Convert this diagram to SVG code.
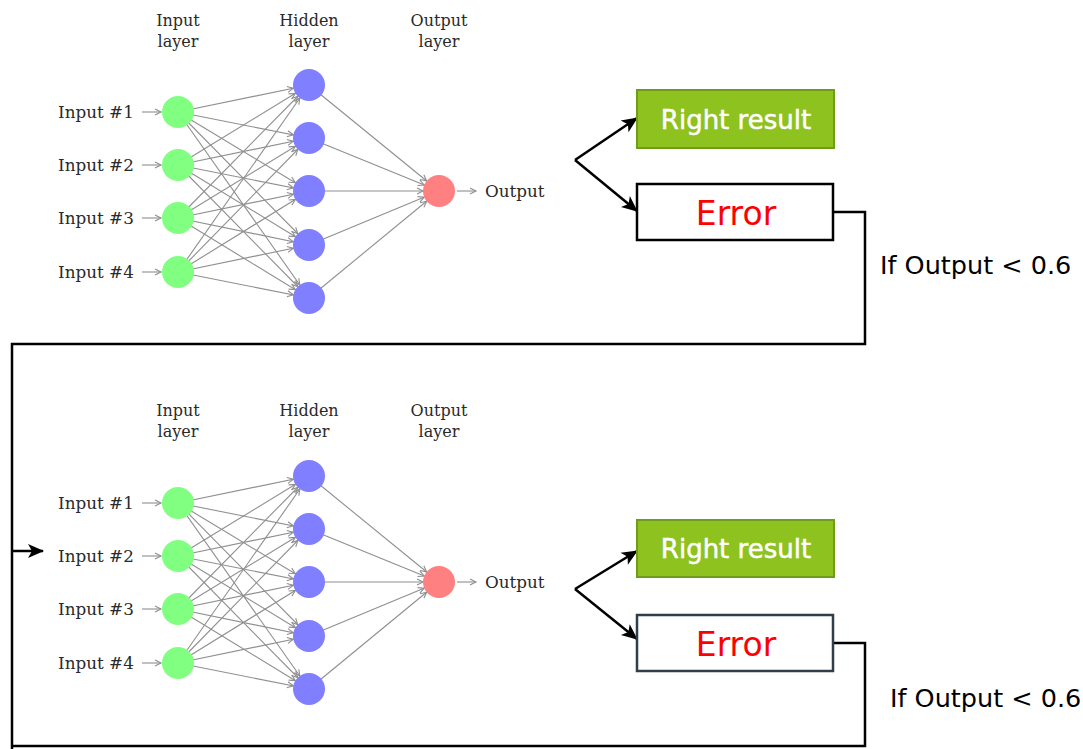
<svg xmlns="http://www.w3.org/2000/svg" width="1083" height="749" viewBox="0 0 1083 749">
<style>
.lbl{font-family:"DejaVu Serif","Liberation Serif",serif;font-size:16.8px;fill:#2a2a2a}
.hdr{font-family:"DejaVu Serif","Liberation Serif",serif;font-size:16px;fill:#2a2a2a;text-anchor:middle}
.edge{stroke:#8f8f8f;stroke-width:1.1;fill:none;marker-end:url(#nodeArrow)}
.ia{stroke:#8f8f8f;stroke-width:1.1;fill:none;marker-end:url(#smallArrow)}
.inN{fill:#80ff80}
.hidN{fill:#7f7fff}
.outN{fill:#ff8080}
.right{fill:#8dc21f;stroke:#6f9c1a;stroke-width:2}
.err{fill:#fff;stroke:#000;stroke-width:2.5}
.err2{fill:#fff;stroke:#2f3e48;stroke-width:2.5}
.rt{font-family:"DejaVu Sans","Liberation Sans",sans-serif;font-size:26px;fill:#fff;stroke:#fff;stroke-width:0.5;text-anchor:middle}
.et{font-family:"DejaVu Sans","Liberation Sans",sans-serif;font-size:33px;fill:#ff0000;text-anchor:middle}
.cond{font-family:"DejaVu Sans","Liberation Sans",sans-serif;font-size:25.5px;fill:#000}
.fork{stroke:#000;stroke-width:2.5;fill:none;marker-end:url(#bigArrow)}
.loop{stroke:#000;stroke-width:2.5;fill:none}
</style>
<defs>
<marker id="nodeArrow" markerUnits="userSpaceOnUse" markerWidth="30" markerHeight="10" refX="22" refY="5" orient="auto" overflow="visible">
<path d="M0,2 L6,5 L0,8" fill="none" stroke="#8f8f8f" stroke-width="1.1"/>
</marker>
<marker id="smallArrow" markerUnits="userSpaceOnUse" markerWidth="8" markerHeight="10" refX="6" refY="5" orient="auto" overflow="visible">
<path d="M0,2 L6,5 L0,8" fill="none" stroke="#8f8f8f" stroke-width="1.1"/>
</marker>
<marker id="bigArrow" markerUnits="userSpaceOnUse" markerWidth="16" markerHeight="14" refX="15" refY="7" orient="auto" overflow="visible">
<path d="M0,0 L16,7 L0,14 L4,7 Z" fill="#000"/>
</marker>
</defs>

<g id="connectors">
<g id="top-edges">
<path class="edge" d="M178,112 L309,85"/><path class="edge" d="M178,112 L309,138"/><path class="edge" d="M178,112 L309,191"/><path class="edge" d="M178,112 L309,245"/><path class="edge" d="M178,112 L309,298"/>
<path class="edge" d="M178,165 L309,85"/><path class="edge" d="M178,165 L309,138"/><path class="edge" d="M178,165 L309,191"/><path class="edge" d="M178,165 L309,245"/><path class="edge" d="M178,165 L309,298"/>
<path class="edge" d="M178,218 L309,85"/><path class="edge" d="M178,218 L309,138"/><path class="edge" d="M178,218 L309,191"/><path class="edge" d="M178,218 L309,245"/><path class="edge" d="M178,218 L309,298"/>
<path class="edge" d="M178,272 L309,85"/><path class="edge" d="M178,272 L309,138"/><path class="edge" d="M178,272 L309,191"/><path class="edge" d="M178,272 L309,245"/><path class="edge" d="M178,272 L309,298"/>
<path class="edge" d="M309,85 L439,191"/><path class="edge" d="M309,138 L439,191"/><path class="edge" d="M309,191 L439,191"/><path class="edge" d="M309,245 L439,191"/><path class="edge" d="M309,298 L439,191"/>
<path class="ia" d="M142,112 H161"/><path class="ia" d="M142,165 H161"/><path class="ia" d="M142,218 H161"/><path class="ia" d="M142,272 H161"/>
<path class="ia" d="M457,191 H476"/>
</g>
<g id="bottom-edges" transform="translate(0,391)">
<path class="edge" d="M178,112 L309,85"/><path class="edge" d="M178,112 L309,138"/><path class="edge" d="M178,112 L309,191"/><path class="edge" d="M178,112 L309,245"/><path class="edge" d="M178,112 L309,298"/>
<path class="edge" d="M178,165 L309,85"/><path class="edge" d="M178,165 L309,138"/><path class="edge" d="M178,165 L309,191"/><path class="edge" d="M178,165 L309,245"/><path class="edge" d="M178,165 L309,298"/>
<path class="edge" d="M178,218 L309,85"/><path class="edge" d="M178,218 L309,138"/><path class="edge" d="M178,218 L309,191"/><path class="edge" d="M178,218 L309,245"/><path class="edge" d="M178,218 L309,298"/>
<path class="edge" d="M178,272 L309,85"/><path class="edge" d="M178,272 L309,138"/><path class="edge" d="M178,272 L309,191"/><path class="edge" d="M178,272 L309,245"/><path class="edge" d="M178,272 L309,298"/>
<path class="edge" d="M309,85 L439,191"/><path class="edge" d="M309,138 L439,191"/><path class="edge" d="M309,191 L439,191"/><path class="edge" d="M309,245 L439,191"/><path class="edge" d="M309,298 L439,191"/>
<path class="ia" d="M142,112 H161"/><path class="ia" d="M142,165 H161"/><path class="ia" d="M142,218 H161"/><path class="ia" d="M142,272 H161"/>
<path class="ia" d="M457,191 H476"/>
</g>
<path class="fork" d="M575,160 L637,118"/>
<path class="fork" d="M575,160 L637,211"/>
<path class="fork" d="M575,589 L637,551"/>
<path class="fork" d="M575,589 L637,639"/>
<path class="loop" d="M834,212 H865 V344 H12 V749"/>
<path class="fork" d="M12,551 H43"/>
<path class="loop" d="M834,643 H865 V746 H12"/>
</g>

<g id="top-headers">
<text class="hdr" x="178" y="26">Input</text><text class="hdr" x="178" y="47">layer</text>
<text class="hdr" x="309" y="26">Hidden</text><text class="hdr" x="309" y="47">layer</text>
<text class="hdr" x="439" y="26">Output</text><text class="hdr" x="439" y="47">layer</text>
</g>
<g id="top-in1"><text class="lbl" x="58" y="117.5">Input #1</text><circle class="inN" cx="178" cy="112" r="16"/></g>
<g id="top-in2"><text class="lbl" x="58" y="170.5">Input #2</text><circle class="inN" cx="178" cy="165" r="16"/></g>
<g id="top-in3"><text class="lbl" x="58" y="223.5">Input #3</text><circle class="inN" cx="178" cy="218" r="16"/></g>
<g id="top-in4"><text class="lbl" x="58" y="277.5">Input #4</text><circle class="inN" cx="178" cy="272" r="16"/></g>
<g id="top-h1"><circle class="hidN" cx="309" cy="85" r="16"/></g>
<g id="top-h2"><circle class="hidN" cx="309" cy="138" r="16"/></g>
<g id="top-h3"><circle class="hidN" cx="309" cy="191" r="16"/></g>
<g id="top-h4"><circle class="hidN" cx="309" cy="245" r="16"/></g>
<g id="top-h5"><circle class="hidN" cx="309" cy="298" r="16"/></g>
<g id="top-out"><circle class="outN" cx="439" cy="191" r="16"/><text class="lbl" x="485" y="196.5">Output</text></g>

<g id="bottom-headers" transform="translate(0,390)">
<text class="hdr" x="178" y="26">Input</text><text class="hdr" x="178" y="47">layer</text>
<text class="hdr" x="309" y="26">Hidden</text><text class="hdr" x="309" y="47">layer</text>
<text class="hdr" x="439" y="26">Output</text><text class="hdr" x="439" y="47">layer</text>
</g>
<g id="bot-in1"><text class="lbl" x="58" y="508.5">Input #1</text><circle class="inN" cx="178" cy="503" r="16"/></g>
<g id="bot-in2"><text class="lbl" x="58" y="561.5">Input #2</text><circle class="inN" cx="178" cy="556" r="16"/></g>
<g id="bot-in3"><text class="lbl" x="58" y="614.5">Input #3</text><circle class="inN" cx="178" cy="609" r="16"/></g>
<g id="bot-in4"><text class="lbl" x="58" y="668.5">Input #4</text><circle class="inN" cx="178" cy="663" r="16"/></g>
<g id="bot-h1"><circle class="hidN" cx="309" cy="476" r="16"/></g>
<g id="bot-h2"><circle class="hidN" cx="309" cy="529" r="16"/></g>
<g id="bot-h3"><circle class="hidN" cx="309" cy="582" r="16"/></g>
<g id="bot-h4"><circle class="hidN" cx="309" cy="636" r="16"/></g>
<g id="bot-h5"><circle class="hidN" cx="309" cy="689" r="16"/></g>
<g id="bot-out"><circle class="outN" cx="439" cy="582" r="16"/><text class="lbl" x="485" y="587.5">Output</text></g>

<g id="top-right"><rect class="right" x="637" y="90" width="197" height="58"/><text class="rt" x="736" y="129">Right result</text></g>
<g id="top-error"><rect class="err" x="637" y="184" width="196" height="56"/><text class="et" x="736" y="225">Error</text></g>
<g id="top-cond"><text class="cond" x="880" y="274">If Output &lt; 0.6</text></g>
<g id="bot-right"><rect class="right" x="637" y="520" width="197" height="57"/><text class="rt" x="736" y="558">Right result</text></g>
<g id="bot-error"><rect class="err2" x="637" y="615" width="196" height="56"/><text class="et" x="736" y="656">Error</text></g>
<g id="bot-cond"><text class="cond" x="890" y="707">If Output &lt; 0.6</text></g>
</svg>
